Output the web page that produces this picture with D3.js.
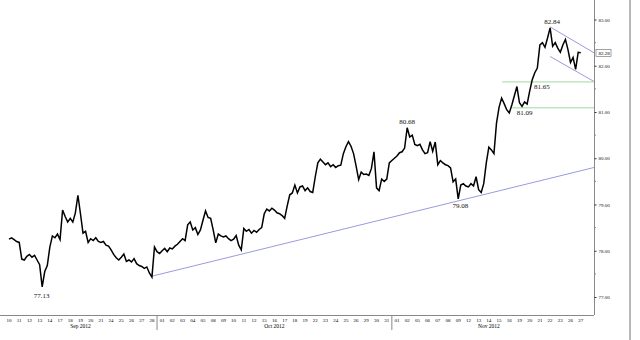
<!DOCTYPE html>
<html><head><meta charset="utf-8">
<script src="https://cdn.jsdelivr.net/npm/d3@7"></script>
<style>html,body{margin:0;padding:0;background:#fff;}svg{display:block;}</style>
</head><body>
<svg id="c" width="640" height="340"></svg>
<script>
// ---- data ----
const dayLabels = ["10","11","12","13","14","17","18","19","20","21","24","25","26","27","28",
  "01","02","03","04","05","08","09","10","11","12","15","16","17","18","19","22","23","24","25","26","29","30","31",
  "01","02","05","06","07","08","09","12","13","14","15","16","19","20","21","22","23","26","27"];
const months = ["Sep 2012","Oct 2012","Nov 2012"];
const monthDayCounts = [15, 23, 19];
// intraday prices, four readings per trading day
const prices = [
  [78.25,78.28,78.24,78.20],[78.18,77.82,77.80,77.88],[77.92,77.86,77.90,77.80],[77.70,77.22,77.55,77.68],
  [78.08,78.32,78.28,78.36],[78.24,78.88,78.74,78.62],[78.70,78.62,78.82,79.20],[78.80,78.38,78.42,78.18],
  [78.26,78.22,78.28,78.20],[78.18,78.20,78.12,78.10],[78.02,77.92,77.85,77.80],[77.86,77.93,77.77,77.80],
  [77.76,77.83,77.72,77.68],[77.66,77.62,77.65,77.52],[77.43,78.08,77.98,77.94],
  [78.00,78.05,77.98,78.06],[78.04,78.10,78.14,78.20],[78.26,78.22,78.56,78.62],[78.45,78.50,78.35,78.45],
  [78.66,78.86,78.72,78.70],[78.45,78.17,78.36,78.32],[78.30,78.32,78.26,78.22],[78.25,78.33,78.12,78.02],
  [78.48,78.42,78.46,78.38],[78.44,78.40,78.46,78.50],[78.80,78.90,78.86,78.92],[78.88,78.82,78.80,78.76],
  [78.70,78.97,79.21,79.25],[79.42,79.25,79.38,79.40],[79.30,79.36,79.28,79.26],[79.60,79.90,79.98,79.92],
  [79.86,79.90,79.82,79.86],[79.80,79.84,79.85,80.10],[80.25,80.36,80.26,80.10],[79.83,79.54,79.70,79.65],
  [79.66,79.63,79.78,80.14],[79.36,79.30,79.55,79.50],[79.55,79.90,79.95,80.00],
  [80.05,80.12,80.14,80.22],[80.66,80.46,80.50,80.30],[80.27,80.30,80.18,80.10],[80.12,80.36,80.15,80.35],
  [79.86,79.95,79.90,79.86],[79.84,79.79,79.49,79.55],[79.12,79.42,79.45,79.40],[79.38,79.45,79.40,79.60],
  [79.32,79.26,79.45,79.90],[80.24,80.18,80.10,80.76],[81.10,81.30,81.18,81.05],[80.98,81.15,81.35,81.55],
  [81.20,81.12,81.22,81.17],[81.45,81.70,81.85,81.95],[82.45,82.50,82.40,82.60],[82.82,82.42,82.50,82.38],
  [82.29,82.45,82.57,82.35],[82.07,82.18,81.92,82.29],[82.28]
];
const yTicks = [77,78,79,80,81,82,83];
const lastPrice = 82.28;
const supportLevels = [{v:81.65, from:48.3},{v:81.09, from:49.3}];
const trendLine = [[14.0,77.45],[57.3,79.80]];
const channelUpper = [[53.0,82.84],[57.3,82.28]];
const channelLower = [[53.0,82.20],[57.3,81.66]];
const annotations = [
  {text:"82.84", i:53.2, v:82.95},
  {text:"81.65", i:52.2, v:81.55},
  {text:"81.09", i:50.5, v:80.99},
  {text:"80.68", i:39.0, v:80.79},
  {text:"79.08", i:44.2, v:78.97},
  {text:"77.13", i:3.2,  v:77.04}
];

// ---- drawing ----
const svg = d3.select("#c");
const x = d3.scaleLinear().domain([0, 57.3]).range([9, 594]);
const y = d3.scaleLinear().domain([77, 83]).range([297, 19.5]);
const axisX = 594, axisY = 315;

// right gray frame
svg.append("rect").attr("x",629).attr("y",0).attr("width",2).attr("height",340).attr("fill","#b8b8b8");

// series points
const pts = [];
prices.forEach((day, i) => day.forEach((v, k) => pts.push([i + k/4, v])));

const line = d3.line().x(d => x(d[0])).y(d => y(d[1]));

// trend / channel lines
[trendLine, channelUpper, channelLower].forEach(l => {
  svg.append("path").attr("d", line(l)).attr("stroke","#9a9ae0").attr("stroke-width",1).attr("fill","none");
});
supportLevels.forEach(s => {
  svg.append("line").attr("x1",x(s.from)).attr("x2",x(57.3)).attr("y1",y(s.v)).attr("y2",y(s.v))
    .attr("stroke","#9fd89f").attr("stroke-width",1);
});

// price line
svg.append("path").attr("d", line(pts)).attr("stroke","#000").attr("stroke-width",1.5)
  .attr("fill","none").attr("stroke-linejoin","miter");

// axes
svg.append("line").attr("x1",0).attr("x2",axisX).attr("y1",axisY+0.5).attr("y2",axisY+0.5).attr("stroke","#888");
svg.append("line").attr("x1",axisX+0.5).attr("x2",axisX+0.5).attr("y1",0).attr("y2",axisY).attr("stroke","#888");

const yAxis = d3.axisRight(y).tickValues(yTicks).tickSize(2).tickFormat(d3.format(".2f"));
const gy = svg.append("g").attr("transform",`translate(${axisX+0.5},0)`).call(yAxis);
gy.select(".domain").remove();
gy.selectAll("line").attr("stroke","#333");
gy.selectAll("text").attr("font-family","Liberation Serif").attr("font-size","5px").attr("fill","#111").attr("x",4);
// minor ticks
const minor = d3.range(77.5, 83, 1);
svg.selectAll(".mt").data(minor).enter().append("line")
  .attr("x1",axisX).attr("x2",axisX+2).attr("y1",d=>y(d)).attr("y2",d=>y(d)).attr("stroke","#888");

// last price box
const lp = svg.append("g").attr("transform",`translate(${axisX+2},${y(lastPrice)})`);
lp.append("rect").attr("x",0).attr("y",-3.5).attr("width",15).attr("height",7).attr("fill","#fff").attr("stroke","#666").attr("stroke-width",0.6);
lp.append("text").attr("x",2.5).attr("y",1.8).attr("font-family","Liberation Serif").attr("font-size","5px").attr("fill","#000").text(lastPrice.toFixed(2));

// x tick labels
svg.selectAll(".xl").data(dayLabels).enter().append("text")
  .attr("x",(d,i)=>x(i)).attr("y",axisY+7).attr("text-anchor","middle")
  .attr("font-family","Liberation Serif").attr("font-size","5px").attr("fill","#000").text(d=>d);

// month labels and separators
let start = 0;
monthDayCounts.forEach((n, m) => {
  const mid = start + (n-1)/2;
  svg.append("text").attr("x",x(mid)).attr("y",axisY+12.5).attr("text-anchor","middle")
    .attr("font-family","Liberation Serif").attr("font-size","5.5px").attr("fill","#000").text(months[m]);
  if (m > 0) {
    svg.append("line").attr("x1",x(start-0.5)).attr("x2",x(start-0.5)).attr("y1",axisY).attr("y2",axisY+15).attr("stroke","#888");
  }
  start += n;
});

// annotations
svg.selectAll(".an").data(annotations).enter().append("text")
  .attr("x",d=>x(d.i)).attr("y",d=>y(d.v)).attr("dy","0.35em").attr("text-anchor","middle")
  .attr("font-family","Liberation Serif").attr("font-size","7px").attr("fill","#111").text(d=>d.text);
</script>
</body></html>
